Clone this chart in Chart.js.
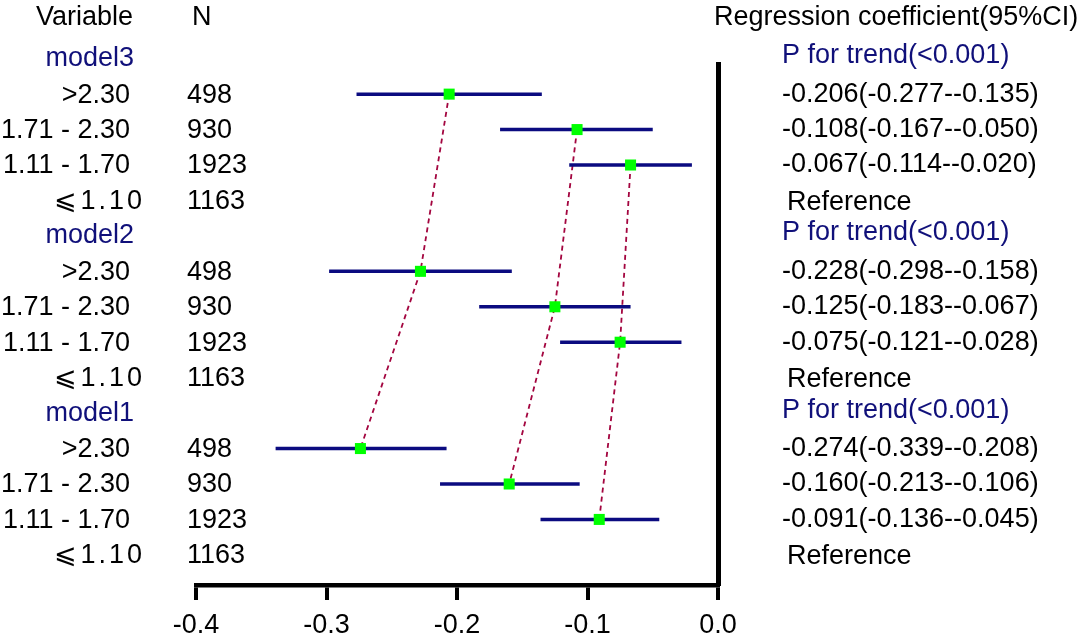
<!DOCTYPE html>
<html>
<head>
<meta charset="utf-8">
<script src="https://cdn.jsdelivr.net/npm/chart.js@4/dist/chart.umd.min.js"></script>
<style>
    body { margin: 0; background: #fff; }
    #forest { display: block; }
</style>
</head>
<body>
<canvas id="forest" width="1084" height="633"></canvas>
<script>
// categories
const models = ["model3", "model2", "model1"];
const levels = [">2.30", "1.71 - 2.30", "1.11 - 1.70", "⩽1.10"];
const counts = [498, 930, 1923, 1163];
const xTicks = [-0.4, -0.3, -0.2, -0.1, 0.0];
const trendText = "P for trend(<0.001)";

// coefficients for >2.30, 1.71-2.30, 1.11-1.70 (the last level is the reference)
const coefModel3 = [-0.206, -0.108, -0.067];
const lowModel3 = [-0.277, -0.167, -0.114];
const highModel3 = [-0.135, -0.050, -0.020];

const coefModel2 = [-0.228, -0.125, -0.075];
const lowModel2 = [-0.298, -0.183, -0.121];
const highModel2 = [-0.158, -0.067, -0.028];

const coefModel1 = [-0.274, -0.160, -0.091];
const lowModel1 = [-0.339, -0.213, -0.136];
const highModel1 = [-0.208, -0.106, -0.045];

const coefs = [coefModel3, coefModel2, coefModel1];
const lows = [lowModel3, lowModel2, lowModel1];
const highs = [highModel3, highModel2, highModel1];

const font = "Arial, 'Liberation Sans', sans-serif";
const navy = "#10107a";

// row 0 = model3 header, then 4 levels, then model2 header ...
const rowOf = (m, l) => m * 5 + 1 + l;

const squares = [];
const datasets = [];
models.forEach((m, mi) => {
    coefs[mi].forEach((c, li) => {
        squares.push({x: c, y: rowOf(mi, li)});
    });
});
datasets.push({
    data: squares,
    pointStyle: "rect",
    pointRadius: 7.8,
    pointHoverRadius: 7.8,
    backgroundColor: "#00ff00",
    borderWidth: 0,
    showLine: false,
});
models.forEach((m, mi) => {
    coefs[mi].forEach((c, li) => {
        datasets.push({
            data: [{x: lows[mi][li], y: rowOf(mi, li)}, {x: highs[mi][li], y: rowOf(mi, li)}],
            showLine: true,
            borderColor: "#0b0b80",
            borderWidth: 3.5,
            pointRadius: 0,
        });
    });
});
// dashed lines joining the same level across models
[0, 1, 2].forEach(li => {
    datasets.push({
        data: models.map((m, mi) => ({x: coefs[mi][li], y: rowOf(mi, li)})),
        showLine: true,
        borderColor: "#a3053f",
        borderWidth: 1.8,
        borderDash: [5, 4],
        pointRadius: 0,
    });
});

const textPlugin = {
    id: "forestText",
    afterDraw(chart) {
        const ctx = chart.ctx;
        const y = chart.scales.y;
        ctx.save();
        ctx.font = "27px " + font;
        ctx.textBaseline = "middle";
        ctx.fillStyle = "#000";

        ctx.textAlign = "right";
        ctx.fillText("Variable", 133, 18);
        ctx.textAlign = "left";
        ctx.fillText("N", 192, 18);
        ctx.fillText("Regression coefficient(95%CI)", 714, 18);

        models.forEach((m, mi) => {
            const hy = y.getPixelForValue(mi * 5);
            ctx.fillStyle = navy;
            ctx.textAlign = "right";
            ctx.fillText(m, 134, hy);
            ctx.textAlign = "left";
            ctx.fillText(trendText, 782, hy - 3);

            levels.forEach((lv, li) => {
                const ry = y.getPixelForValue(rowOf(mi, li));
                ctx.fillStyle = "#000";
                ctx.textAlign = "right";
                if (li === 3) {
                    ctx.letterSpacing = "3px";
                    ctx.fillText(lv, 145, ry + 1);
                    ctx.letterSpacing = "0px";
                } else {
                    ctx.fillText(lv, 130, ry + 1);
                }
                ctx.textAlign = "left";
                ctx.fillText(String(counts[li]), 187, ry + 1);
                if (li < 3) {
                    const c = coefs[mi][li];
                    const txt = c.toFixed(3) + "(" + lows[mi][li].toFixed(3) + "-" + highs[mi][li].toFixed(3) + ")";
                    ctx.fillText(txt, 782, ry);
                } else {
                    ctx.fillText("Reference", 787, ry + 2);
                }
            });
        });
        ctx.restore();
    }
};

new Chart(document.getElementById("forest"), {
    type: "scatter",
    data: {datasets: datasets},
    options: {
        responsive: false,
        animation: false,
        layout: {padding: {left: 196, right: 366, top: 64, bottom: 0}},
        plugins: {legend: {display: false}, tooltip: {enabled: false}},
        scales: {
            x: {
                type: "linear",
                position: "bottom",
                min: -0.4,
                max: 0,
                afterBuildTicks: scale => {
                    scale.ticks = xTicks.map(v => ({value: v}));
                },
                afterFit: scale => {
                    scale.height = 48;
                },
                ticks: {
                    color: "#000",
                    padding: 9,
                    font: {family: font, size: 27},
                    callback: v => Number(v).toFixed(1),
                },
                grid: {
                    display: true,
                    drawOnChartArea: false,
                    drawTicks: true,
                    tickLength: 15,
                    lineWidth: 4,
                    color: "#000",
                },
                border: {display: true, width: 4.5, color: "#000"},
            },
            y: {
                type: "linear",
                position: "right",
                reverse: true,
                min: 0.15,
                max: 14.85,
                afterFit: scale => {
                    scale.width = 0;
                },
                ticks: {display: false},
                grid: {display: false},
                border: {display: true, width: 5, color: "#000"},
            },
        },
    },
    plugins: [textPlugin],
});
</script>
</body>
</html>
